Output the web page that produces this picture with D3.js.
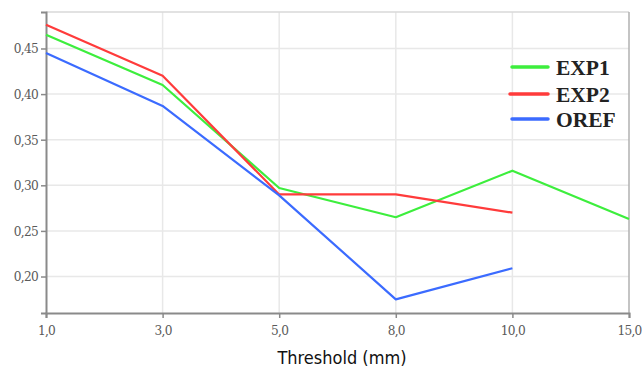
<!DOCTYPE html>
<html>
<head>
<meta charset="utf-8">
<script src="https://cdn.jsdelivr.net/npm/d3@7"></script>
<style>
  body { margin: 0; background: #fff; }
</style>
</head>
<body>
<div id="chart"></div>
<script>
// thresholds on the x axis (categorical, evenly spaced)
var thresholds = ["1,0", "3,0", "5,0", "8,0", "10,0", "15,0"];
var yTicks = [0.20, 0.25, 0.30, 0.35, 0.40, 0.45];

var exp1 = [0.465, 0.410, 0.297, 0.265, 0.316, 0.263];
var exp2 = [0.476, 0.420, 0.290, 0.290, 0.270];
var oref = [0.445, 0.387, 0.289, 0.175, 0.209];

var seriesNames = ["EXP1", "EXP2", "OREF"];
var seriesColors = ["#3dee3d", "#ff3b3b", "#3b6bff"];

var width = 642, height = 367;
var margin = {top: 12, right: 13, bottom: 54, left: 46};

var svg = d3.select("#chart").append("svg")
    .attr("width", width)
    .attr("height", height);

var x = d3.scalePoint()
    .domain(thresholds)
    .range([margin.left, width - margin.right]);

var y = d3.scaleLinear()
    .domain([0.16, 0.49])
    .range([height - margin.bottom, margin.top]);

// grid
var grid = svg.append("g").attr("class", "grid");
grid.selectAll(".hg")
    .data(yTicks)
    .enter().append("line")
    .attr("x1", margin.left).attr("x2", width - margin.right)
    .attr("y1", function(d) { return y(d); })
    .attr("y2", function(d) { return y(d); })
    .attr("stroke", "#e8e8e8")
    .attr("stroke-width", 1.5);
grid.selectAll(".vg")
    .data(thresholds.slice(1, -1))
    .enter().append("line")
    .attr("x1", function(d) { return x(d); })
    .attr("x2", function(d) { return x(d); })
    .attr("y1", margin.top).attr("y2", height - margin.bottom)
    .attr("stroke", "#e8e8e8")
    .attr("stroke-width", 1.5);

// frame top / right
svg.append("line")
    .attr("x1", margin.left).attr("x2", width - margin.right)
    .attr("y1", margin.top).attr("y2", margin.top)
    .attr("stroke", "#d8d8d8").attr("stroke-width", 1.5);
svg.append("line")
    .attr("x1", width - margin.right).attr("x2", width - margin.right)
    .attr("y1", margin.top).attr("y2", height - margin.bottom)
    .attr("stroke", "#b0b0b0").attr("stroke-width", 1.5);

// axes
var xAxis = svg.append("g")
    .attr("transform", "translate(0," + (height - margin.bottom) + ")")
    .call(d3.axisBottom(x).tickSize(5).tickPadding(7));
var yAxis = svg.append("g")
    .attr("transform", "translate(" + margin.left + ",0)")
    .call(d3.axisLeft(y).tickValues(yTicks).tickSize(5).tickPadding(3)
        .tickFormat(function(d) { return d3.format(".2f")(d).replace(".", ","); }));

[xAxis, yAxis].forEach(function(a) {
    a.select(".domain").attr("stroke", "#8a8a8a").attr("stroke-width", 2);
    a.selectAll(".tick line").attr("stroke", "#8a8a8a").attr("stroke-width", 1.5);
    a.selectAll(".tick text")
        .attr("fill", "#5a5a5a")
        .style("font-family", "'DejaVu Serif Condensed', 'DejaVu Serif', serif")
        .style("font-size", "13.5px")
        .style("letter-spacing", "-0.7px");
});

// lines
var line = d3.line()
    .x(function(d, i) { return x(thresholds[i]); })
    .y(function(d) { return y(d); });

var data = [exp1, exp2, oref];
svg.append("g").selectAll("path")
    .data(data)
    .enter().append("path")
    .attr("d", line)
    .attr("fill", "none")
    .attr("stroke", function(d, i) { return seriesColors[i]; })
    .attr("stroke-width", 2.2)
    .attr("stroke-linejoin", "round");

// legend
var legendY = [67, 94, 119];
var legend = svg.append("g").selectAll("g")
    .data(seriesNames)
    .enter().append("g")
    .attr("transform", function(d, i) { return "translate(512," + legendY[i] + ")"; });
legend.append("line")
    .attr("x1", function(d, i) { return i == 1 ? -2 : 0; })
    .attr("x2", 36)
    .attr("stroke", function(d, i) { return seriesColors[i]; })
    .attr("stroke-width", 3.5)
    .attr("stroke-linecap", "round");
legend.append("text")
    .attr("x", 44)
    .attr("dy", "0.36em")
    .text(function(d) { return d; })
    .attr("fill", "#222")
    .style("font-family", "'Liberation Serif', 'Times New Roman', serif")
    .style("font-weight", "bold")
    .style("font-size", "21.5px");

// x axis title
svg.append("text")
    .attr("x", 342)
    .attr("y", 364)
    .attr("text-anchor", "middle")
    .text("Threshold (mm)")
    .attr("fill", "#111")
    .style("font-family", "'DejaVu Sans Condensed', 'DejaVu Sans', sans-serif")
    .style("font-size", "18px");
</script>
</body>
</html>
